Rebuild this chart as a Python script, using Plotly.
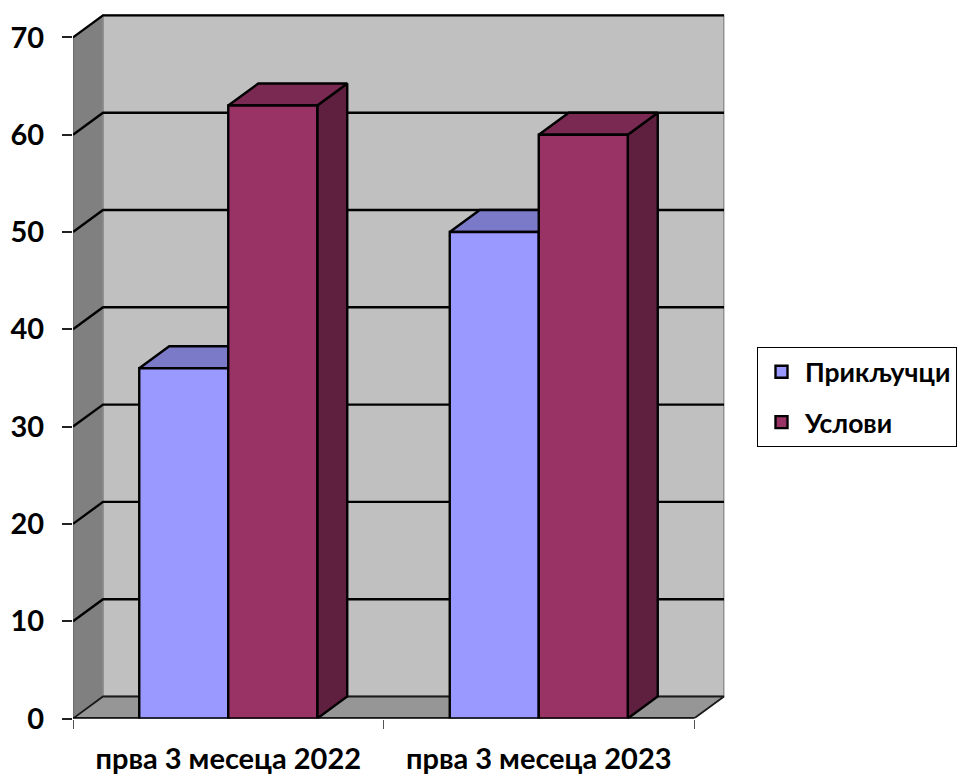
import plotly.graph_objects as go

categories = ["прва 3 месеца 2022", "прва 3 месеца 2023"]
series_names = ["Прикључци", "Услови"]
prikljucci = [36, 50]
uslovi = [63, 60]
y_ticks = [0, 10, 20, 30, 40, 50, 60, 70]

W, H = 966, 776
PX_L, PX_R, PX_B, PX_T = 73, 724.5, 718.5, 10
PX_UNIT_X = 310.5
PX_UNIT_Y = 9.73
DX = 30 / PX_UNIT_X
DY = 22 / PX_UNIT_Y
BAR_W = 89 / PX_UNIT_X

x_rng = [-0.5, -0.5 + (PX_R - PX_L) / PX_UNIT_X]
y_rng = [0, (PX_B - PX_T) / PX_UNIT_Y]
XL, XR = -0.5, 1.5
YTOP = y_ticks[-1]

FONT = "Lato, 'Open Sans', sans-serif"
COL = ["#9999FF", "#993366"]
TOP = ["#7A7AC9", "#7A2952"]
SIDE = ["#5C5C99", "#5F2040"]

fig = go.Figure()


def poly(xs, ys, fill, line="#000000", lw=2.4):
    fig.add_trace(go.Scatter(
        x=xs, y=ys, mode="lines", fill="toself", fillcolor=fill,
        line=dict(color=line, width=lw), showlegend=False, hoverinfo="skip",
        cliponaxis=False,
    ))


# walls and floor
poly([XL, XL + DX, XL + DX, XL, XL], [0, DY, YTOP + DY, YTOP, 0], "#808080", "#606060", 1.2)
poly([XL + DX, XR + DX, XR + DX, XL + DX, XL + DX], [DY, DY, YTOP + DY, YTOP + DY, DY], "#C0C0C0", "#8C8C8C", 1.8)
poly([XL, XL + DX, XR + DX, XR, XL], [0, DY, DY, 0, 0], "#969696", "#1A1A1A", 1.8)

# wall top edges
fig.add_trace(go.Scatter(
    x=[XL, XL + DX, XR + DX], y=[YTOP, YTOP + DY, YTOP + DY], mode="lines",
    line=dict(color="#000000", width=2.4), showlegend=False, hoverinfo="skip", cliponaxis=False,
))

# gridlines across the two walls
for v in y_ticks[1:-1]:
    fig.add_trace(go.Scatter(
        x=[XL, XL + DX, XR + DX], y=[v, v + DY, v + DY], mode="lines",
        line=dict(color="#000000", width=2.4), showlegend=False, hoverinfo="skip", cliponaxis=False,
    ))

# floor front edge
fig.add_trace(go.Scatter(
    x=[XL, XR], y=[0, 0], mode="lines", line=dict(color="#000000", width=2.4),
    showlegend=False, hoverinfo="skip", cliponaxis=False,
))

# depth faces of the bars
for s, values in enumerate([prikljucci, uslovi]):
    for i, v in enumerate(values):
        l = i - BAR_W + s * BAR_W
        r = l + BAR_W
        poly([r, r + DX, r + DX, r, r], [0, DY, v + DY, v, 0], SIDE[s])
        poly([l, l + DX, r + DX, r, l], [v, v + DY, v + DY, v, v], TOP[s])

# front faces, on an overlay so they cover the depth faces of their neighbours
for s, values in enumerate([prikljucci, uslovi]):
    fig.add_trace(go.Bar(
        x=[0, 1], y=values, name=series_names[s], xaxis="x2", yaxis="y2",
        marker=dict(color=COL[s], line=dict(color="#000000", width=2.4)),
        legendgroup=series_names[s], hoverinfo="skip",
    ))

dom_x = [PX_L / W, PX_R / W]
dom_y = [1 - PX_B / H, 1 - PX_T / H]

fig.update_layout(
    width=W, height=H, margin=dict(l=0, r=0, t=0, b=0),
    paper_bgcolor="#FFFFFF", plot_bgcolor="rgba(0,0,0,0)",
    barmode="group", bargap=1 - 2 * BAR_W, bargroupgap=0,
    font=dict(family=FONT),
    xaxis=dict(
        domain=dom_x, range=x_rng, showgrid=False, zeroline=False, showline=False,
        automargin=False,
        tickmode="array", tickvals=[0, 1], ticktext=categories,
        ticks="", ticklabelstandoff=20,
        tickfont=dict(family=FONT, size=29, color="#000000", weight="bold"),
        minor=dict(tickmode="array", tickvals=[XL, 0.5, XR], ticks="outside", ticklen=9,
                   tickwidth=1.2, tickcolor="#555555", showgrid=False),
    ),
    yaxis=dict(
        domain=dom_y, range=y_rng, showgrid=False, zeroline=False, showline=False,
        automargin=False,
        tickmode="array", tickvals=y_ticks, ticks="outside", ticklen=10, tickwidth=1.5,
        tickcolor="#222222", ticklabelstandoff=12,
        tickfont=dict(family=FONT, size=29, color="#000000", weight="bold"),
    ),
    xaxis2=dict(domain=dom_x, range=x_rng, overlaying="x", visible=False),
    yaxis2=dict(domain=dom_y, range=y_rng, overlaying="y", visible=False),
    legend=dict(
        x=757 / W, y=1 - 347 / H, xanchor="left", yanchor="top",
        bgcolor="#FFFFFF", bordercolor="#000000", borderwidth=1,
        font=dict(family=FONT, size=26.5, color="#000000", weight="bold"),
        tracegroupgap=13, traceorder="grouped", itemwidth=37,
        entrywidth=190, entrywidthmode="pixels",
    ),
)

fig.write_html("out.html", config={"displayModeBar": False},
               post_script="document.body.style.margin='0';")
